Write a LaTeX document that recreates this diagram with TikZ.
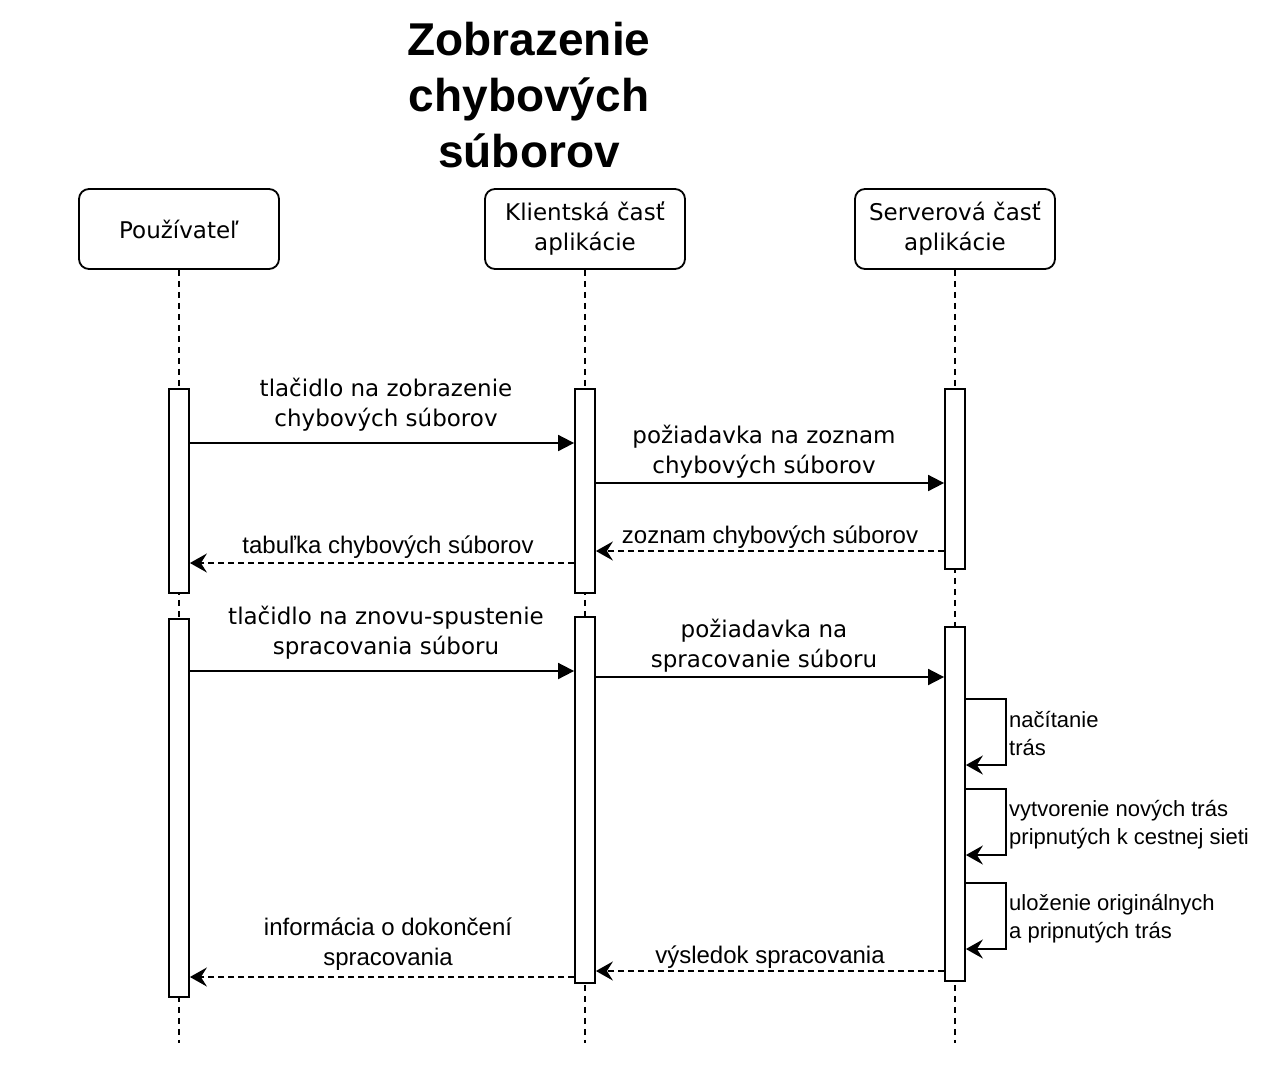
\documentclass[tikz,border=0pt]{standalone}
\usepackage{fontspec}
\setmainfont{Liberation Sans}
\newfontfamily\verdana{DejaVu Sans}
\usetikzlibrary{arrows.meta, positioning}

\begin{document}
\begin{tikzpicture}[x=1pt, y=-1pt,
  actor/.style={rectangle, rounded corners=10pt, draw, line width=1.8pt,
                minimum width=200pt, minimum height=80pt, align=center,
                font=\verdana\fontsize{23}{30}\selectfont},
  bar/.style={rectangle, draw, fill=white, line width=1.8pt, minimum width=20pt, inner sep=0pt},
  life/.style={line width=1.8pt, dash pattern=on 6pt off 5pt},
  call/.style={-{Triangle[length=16pt, width=16pt]}, line width=1.8pt},
  reply/.style={-{Stealth[length=17pt, width=19pt, inset=6pt]}, line width=1.8pt, dash pattern=on 6pt off 4pt},
  selfcall/.style={-{Stealth[length=17pt, width=19pt, inset=6pt]}, line width=1.8pt},
  vlbl/.style={align=center, inner sep=0pt, font=\verdana\fontsize{23}{30}\selectfont},
  albl/.style={align=center, inner sep=0pt, font=\fontsize{24}{30}\selectfont},
  note/.style={align=left, anchor=west, inner sep=0pt, font=\fontsize{22}{28}\selectfont}
]
  \useasboundingbox (0,0) rectangle (1267,1069);

  \node[align=center, font=\fontsize{46}{56}\selectfont\bfseries] (title) at (529,95) {Zobrazenie\\chybových\\súborov};

  \node[actor] (user)   at (179,229) {Používateľ};
  \node[actor] (client) at (585,229) {Klientská časť\\aplikácie};
  \node[actor] (server) at (955,229) {Serverová časť\\aplikácie};

  \draw[life] (user)   -- (user |- 0,1043);
  \draw[life] (client) -- (client |- 0,1043);
  \draw[life] (server) -- (server |- 0,1043);

  \node[bar, minimum height=204pt] (ubar1) at (179,491) {};
  \node[bar, minimum height=378pt] (ubar2) at (179,808) {};
  \node[bar, minimum height=204pt] (cbar1) at (585,491) {};
  \node[bar, minimum height=366pt] (cbar2) at (585,800) {};
  \node[bar, minimum height=180pt] (sbar1) at (955,479) {};
  \node[bar, minimum height=354pt] (sbar2) at (955,804) {};

  \draw[call]  (ubar1.east |- 0,443) -- (cbar1.west |- 0,443);
  \draw[call]  (cbar1.east |- 0,483) -- (sbar1.west |- 0,483);
  \draw[reply] (sbar1.west |- 0,551) -- (cbar1.east |- 0,551);
  \draw[reply] (cbar1.west |- 0,563) -- (ubar1.east |- 0,563);
  \draw[call]  (ubar2.east |- 0,671) -- (cbar2.west |- 0,671);
  \draw[call]  (cbar2.east |- 0,677) -- (sbar2.west |- 0,677);
  \draw[selfcall] (sbar2.east |- 0,699) -- ++(40,0) |- (sbar2.east |- 0,765);
  \draw[selfcall] (sbar2.east |- 0,789) -- ++(40,0) |- (sbar2.east |- 0,855);
  \draw[selfcall] (sbar2.east |- 0,883) -- ++(40,0) |- (sbar2.east |- 0,949);
  \draw[reply] (sbar2.west |- 0,971) -- (cbar2.east |- 0,971);
  \draw[reply] (cbar2.west |- 0,977) -- (ubar2.east |- 0,977);

  \node[vlbl] (l1) at (386,405) {tlačidlo na zobrazenie\\chybových súborov};
  \node[vlbl] (l2) at (764,452) {požiadavka na zoznam\\chybových súborov};
  \node[albl] (l3) at (770,537) {zoznam chybových súborov};
  \node[albl] (l4) at (388,547) {tabuľka chybových súborov};
  \node[vlbl] (l5) at (386,633) {tlačidlo na znovu-spustenie\\spracovania súboru};
  \node[vlbl] (l6) at (764,646) {požiadavka na\\spracovanie súboru};
  \node[note] (n1) at (1009,733) {načítanie\\trás};
  \node[note] (n2) at (1009,825) {vytvorenie nových trás\\pripnutých k cestnej sieti};
  \node[note] (n3) at (1009,919) {uloženie originálnych\\a pripnutých trás};
  \node[albl] (l7) at (770,957) {výsledok spracovania};
  \node[albl] (l8) at (388,944) {informácia o dokončení\\spracovania};
\end{tikzpicture}
\end{document}
